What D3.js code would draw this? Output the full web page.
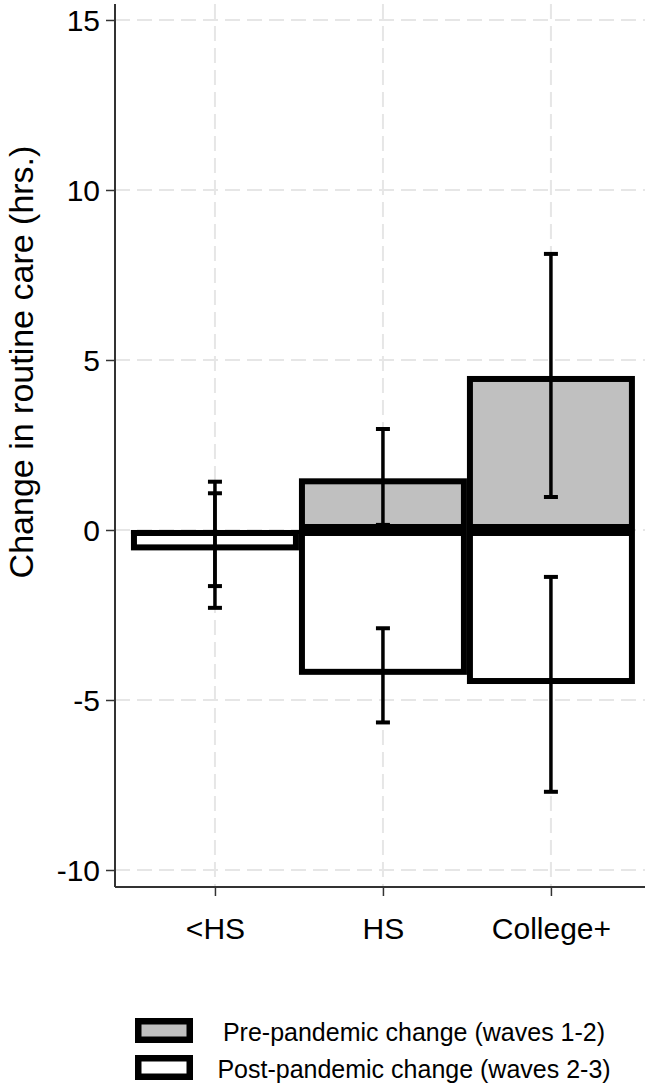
<!DOCTYPE html>
<html><head><meta charset="utf-8">
<script src="https://cdn.jsdelivr.net/npm/d3@7"></script>
<style>
html,body{margin:0;padding:0;background:#fff;}
svg{display:block;font-family:"Liberation Sans",Arial,Helvetica,sans-serif;}
</style></head>
<body>
<svg id="chart" width="656" height="1087"></svg>
<script>
const categories = ["<HS", "HS", "College+"];
const preValues  = [-0.12, 1.52, 4.53];
const preLow     = [-1.65, 0.15, 0.97];
const preHigh    = [1.42, 2.97, 8.12];
const postValues = [-0.60, -4.26, -4.53];
const postLow    = [-2.29, -5.66, -7.70];
const postHigh   = [1.08, -2.89, -1.38];
const yTicks = [-10, -5, 0, 5, 10, 15];
const seriesNames = ["Pre-pandemic change (waves 1-2)", "Post-pandemic change (waves 2-3)"];
const seriesFills = ["#c0c0c0", "#ffffff"];
const yTitle = "Change in routine care (hrs.)";

const svg = d3.select("#chart");
const x = d3.scaleLinear().domain([0.405, 3.56]).range([115, 645]);
const y = d3.scaleLinear().domain([-10.5, 15.47]).range([887, 4]);
const pos = i => i + 1;
const SW = 6;

// gridlines
const grid = svg.append("g");
grid.selectAll("line.h").data(yTicks).join("line")
  .attr("x1", x.range()[0]).attr("x2", x.range()[1])
  .attr("y1", d => y(d)).attr("y2", d => y(d))
  .attr("stroke", "#e6e6e6").attr("stroke-width", 2).attr("stroke-dasharray", "15,7");
grid.selectAll("line.v").data(categories).join("line")
  .attr("x1", (d, i) => x(pos(i))).attr("x2", (d, i) => x(pos(i)))
  .attr("y1", y.range()[1]).attr("y2", y.range()[0])
  .attr("stroke", "#e6e6e6").attr("stroke-width", 2).attr("stroke-dasharray", "15,7");

// bars
const series = [
  {vals: preValues, lo: preLow, hi: preHigh, fill: seriesFills[0]},
  {vals: postValues, lo: postLow, hi: postHigh, fill: seriesFills[1]}
];
const barG = svg.append("g");
series.forEach(s => {
  s.vals.forEach((v, i) => {
    const x0 = x(pos(i) - 0.5), x1 = x(pos(i) + 0.5);
    const yTop = Math.min(y(v), y(0)), yBot = Math.max(y(v), y(0));
    barG.append("rect").attr("x", x0).attr("y", yTop)
      .attr("width", x1 - x0).attr("height", yBot - yTop).attr("fill", "#000");
    if (yBot - yTop > 2 * SW) {
      barG.append("rect").attr("x", x0 + SW).attr("y", yTop + SW)
        .attr("width", x1 - x0 - 2 * SW).attr("height", yBot - yTop - 2 * SW).attr("fill", s.fill);
    }
  });
});

// error bars
const errG = svg.append("g").attr("stroke", "#000").attr("stroke-width", 3.5);
series.forEach(s => {
  s.vals.forEach((v, i) => {
    const cx = x(pos(i));
    errG.append("line").attr("x1", cx).attr("x2", cx).attr("y1", y(s.lo[i])).attr("y2", y(s.hi[i]));
    [s.lo[i], s.hi[i]].forEach(e => {
      errG.append("line").attr("x1", cx - 7).attr("x2", cx + 7).attr("y1", y(e)).attr("y2", y(e)).attr("stroke-width", 4);
    });
  });
});

// axes
const yAxis = d3.axisLeft(y).tickValues(yTicks).tickSize(9).tickPadding(6).tickFormat(d3.format("d"));
const gy = svg.append("g").attr("transform", `translate(${x.range()[0]},0)`).call(yAxis);
gy.select(".domain").attr("stroke", "#333").attr("stroke-width", 2).attr("d", `M0,${y.range()[1]}V${y.range()[0]}`);
gy.selectAll(".tick line").attr("stroke", "#333").attr("stroke-width", 1.5);
gy.selectAll(".tick text").attr("font-size", 30).attr("fill", "#000").attr("font-family", "Liberation Sans, Arial, sans-serif")
  .attr("dy", "0.36em").text(d => d < 0 ? "-" + Math.abs(d) : d);

const xAxis = d3.axisBottom(x).tickValues(categories.map((c, i) => pos(i))).tickSize(9).tickPadding(22)
  .tickFormat((d, i) => categories[i]);
const gx = svg.append("g").attr("transform", `translate(0,${y.range()[0]})`).call(xAxis);
gx.select(".domain").attr("stroke", "#333").attr("stroke-width", 2).attr("d", `M${x.range()[0]},0H${x.range()[1]}`);
gx.selectAll(".tick line").attr("stroke", "#333").attr("stroke-width", 1.5);
gx.selectAll(".tick text").attr("font-size", 30).attr("fill", "#000").attr("font-family", "Liberation Sans, Arial, sans-serif");

// y title
svg.append("text").attr("transform", `translate(33,362) rotate(-90)`)
  .attr("text-anchor", "middle").attr("font-size", 34).attr("fill", "#000").text(yTitle);

// legend
const leg = svg.append("g");
const legY = [1018, 1055];
seriesNames.forEach((name, i) => {
  leg.append("rect").attr("x", 135).attr("y", legY[i]).attr("width", 58).attr("height", 25).attr("fill", "#000");
  leg.append("rect").attr("x", 135 + 6.5).attr("y", legY[i] + 6.5).attr("width", 58 - 13).attr("height", 25 - 13).attr("fill", seriesFills[i]);
  leg.append("text").attr("x", 414).attr("y", legY[i] + 23).attr("text-anchor", "middle")
    .attr("font-size", 25).attr("fill", "#000").text(name);
});
</script>
</body></html>
